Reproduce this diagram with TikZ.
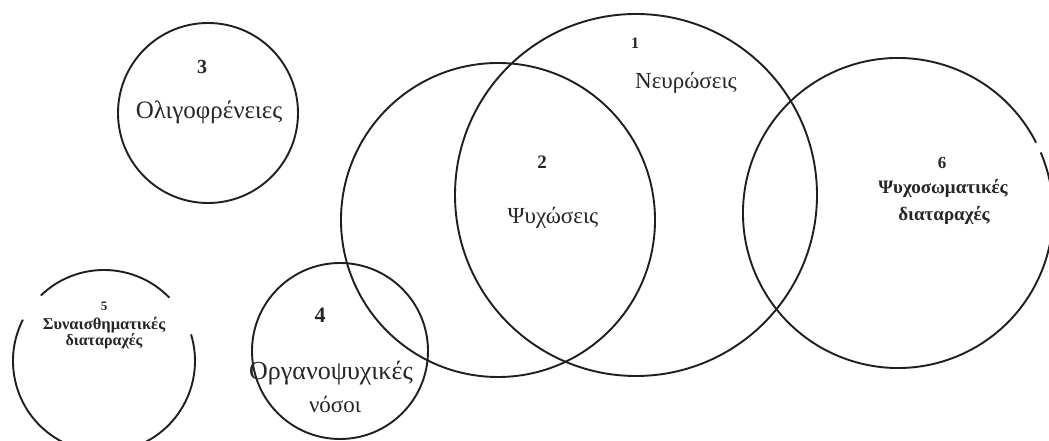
\documentclass[tikz,border=0pt]{standalone}
\usepackage{fontspec}
\setmainfont{Liberation Serif}
\begin{document}
\begin{tikzpicture}[x=1pt,y=1pt,
  ring/.style={draw=black!88,line width=1.9pt},
  lbl/.style={inner sep=0pt,text=black!85,font=\fontsize{23}{27}\selectfont},
  num/.style={inner sep=0pt,text=black!85,font=\fontsize{19}{22}\selectfont\bfseries}]
\useasboundingbox (0,0) rectangle (1049,441);
\fill[white] (0,0) rectangle (1049,441);
\clip (0,0) rectangle (1049,441);
% circles
\node[ring,circle,inner sep=0pt,minimum size=362pt] (c1) at (636,246) {};
\node[ring,circle,inner sep=0pt,minimum size=314pt] (c2) at (498,221) {};
\node[ring,circle,inner sep=0pt,minimum size=180pt] (c3) at (208,328) {};
\node[ring,circle,inner sep=0pt,minimum size=176pt] (c4) at (340,90) {};
\coordinate (c5) at (104,80);
\draw[ring] ([shift={(44:91pt)}]c5) arc (44:134:91pt);
\draw[ring] ([shift={(153:91pt)}]c5) arc (153:377:91pt);
\coordinate (c6) at (898,228);
\draw[ring] ([shift={(27:155pt)}]c6) arc (27:383:155pt);
% labels
\node[num,font=\fontsize{20}{24}\selectfont\bfseries] (n3) at (202,374) {3};
\node[lbl,font=\fontsize{25}{29}\selectfont] (t3) at (209,329) {Ολιγοφρένειες};
\node[num,font=\fontsize{16}{19}\selectfont\bfseries] (n1) at (635,398) {1};
\node[lbl] (t1) at (686,358) {Νευρώσεις};
\node[num] (n2) at (542,279) {2};
\node[lbl] (t2) at (553,223) {Ψυχώσεις};
\node[num,font=\fontsize{17}{20}\selectfont\bfseries] (n6) at (942,278) {6};
\node[lbl,font=\fontsize{19}{22}\selectfont\bfseries] (t6a) at (943,253) {Ψυχοσωματικές};
\node[lbl,font=\fontsize{19}{22}\selectfont\bfseries] (t6b) at (944,226) {διαταραχές};
\node[num,font=\fontsize{13}{15}\selectfont\bfseries] (n5) at (104,135) {5};
\node[lbl,font=\fontsize{16.5}{19}\selectfont\bfseries] (t5a) at (104,116) {Συναισθηματικές};
\node[lbl,font=\fontsize{16}{19}\selectfont\bfseries] (t5b) at (104,100) {διαταραχές};
\node[num,font=\fontsize{22}{26}\selectfont\bfseries] (n4) at (320,126) {4};
\node[lbl,font=\fontsize{26}{30}\selectfont] (t4a) at (331,68) {Οργανοψυχικές};
\node[lbl] (t4b) at (335,36) {νόσοι};
\end{tikzpicture}
\end{document}
